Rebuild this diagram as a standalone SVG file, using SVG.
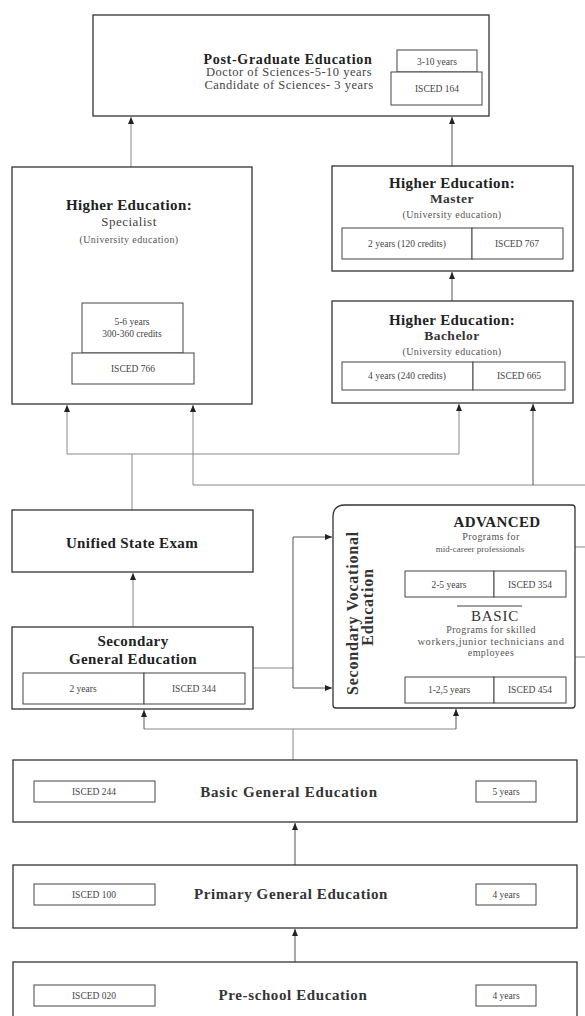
<svg xmlns="http://www.w3.org/2000/svg" width="585" height="1016" viewBox="0 0 585 1016">
<defs>
<marker id="ah" markerWidth="8" markerHeight="8" refX="7" refY="4" orient="auto" markerUnits="userSpaceOnUse"><path d="M0,1 L7,4 L0,7 z" fill="#222"/></marker>
<style>
.box{fill:#fff;stroke:#333;stroke-width:1.3}
.ib{fill:#fff;stroke:#444;stroke-width:1}
.c{fill:none;stroke:#888;stroke-width:1}
.cd{fill:none;stroke:#555;stroke-width:1}
text{font-family:"Liberation Serif","Times New Roman",serif;text-anchor:middle;fill:#333}
.t{font-weight:bold;font-size:15px;fill:#222;letter-spacing:0.4px}
.s{font-size:12.5px;fill:#444;letter-spacing:0.5px}
.u{font-size:10px;fill:#555;letter-spacing:0.4px}
.i{font-size:9.5px;fill:#444}
.b{font-weight:bold;font-size:15px;fill:#333;letter-spacing:0.8px}
</style>
</defs>
<rect width="585" height="1016" fill="#fff"/>

<g id="connectors">
<path class="c" d="M131,167 V117" marker-end="url(#ah)"/>
<path class="cd" d="M452,166 V117" marker-end="url(#ah)"/>
<path class="cd" d="M452,301 V272" marker-end="url(#ah)"/>
<path class="c" d="M67,454 H459"/>
<path class="c" d="M67,454 V405" marker-end="url(#ah)"/>
<path class="c" d="M459,454 V404" marker-end="url(#ah)"/>
<path class="c" d="M132,510 V454"/>
<path class="c" d="M193,485 H585"/>
<path class="c" d="M193,485 V405" marker-end="url(#ah)"/>
<path class="cd" d="M533,485 V404" marker-end="url(#ah)"/>
<path class="c" d="M575,547 H585"/>
<path class="c" d="M575,657 H585"/>
<path class="c" d="M133,627 V573" marker-end="url(#ah)"/>
<path class="c" d="M253,668 H293"/>
<path class="cd" d="M293,537 V688"/>
<path class="cd" d="M293,537 H332" marker-end="url(#ah)"/>
<path class="cd" d="M293,688 H332" marker-end="url(#ah)"/>
<path class="c" d="M293,760 V729"/>
<path class="c" d="M144,729 H456"/>
<path class="cd" d="M144,729 V710" marker-end="url(#ah)"/>
<path class="cd" d="M456,729 V709" marker-end="url(#ah)"/>
<path class="cd" d="M295,865 V823" marker-end="url(#ah)"/>
<path class="cd" d="M295,962 V929" marker-end="url(#ah)"/>
</g>

<g id="postgrad">
<rect class="box" x="93" y="15" width="396" height="101"/>
<text class="t" x="288" y="64" style="font-size:14px;letter-spacing:0.7px">Post-Graduate Education</text>
<text class="s" x="289" y="76">Doctor of Sciences-5-10 years</text>
<text class="s" x="289" y="89">Candidate of Sciences- 3 years</text>
<rect class="ib" x="397" y="50" width="80" height="22"/>
<text class="i" x="437" y="65">3-10 years</text>
<rect class="ib" x="391" y="72" width="91" height="33"/>
<text class="i" x="437" y="92">ISCED 164</text>
</g>

<g id="specialist">
<rect class="box" x="12" y="167" width="240" height="237"/>
<text class="t" x="129" y="210">Higher Education:</text>
<text class="s" x="129" y="226" style="font-size:13px">Specialist</text>
<text class="u" x="129" y="243">(University education)</text>
<rect class="ib" x="82" y="303" width="101" height="50"/>
<text class="i" x="132" y="325">5-6 years</text>
<text class="i" x="132" y="337">300-360 credits</text>
<rect class="ib" x="72" y="353" width="122" height="31"/>
<text class="i" x="133" y="372">ISCED 766</text>
</g>

<g id="master">
<rect class="box" x="332" y="166" width="241" height="105"/>
<text class="t" x="452" y="188">Higher Education:</text>
<text class="s" x="452" y="203" style="font-weight:bold;font-size:13.5px;fill:#333">Master</text>
<text class="u" x="452" y="218">(University education)</text>
<rect class="ib" x="342" y="228" width="130" height="31"/>
<rect class="ib" x="472" y="228" width="91" height="31"/>
<text class="i" x="407" y="247">2 years (120 credits)</text>
<text class="i" x="517" y="247">ISCED 767</text>
</g>

<g id="bachelor">
<rect class="box" x="332" y="301" width="241" height="102"/>
<text class="t" x="452" y="325">Higher Education:</text>
<text class="s" x="452" y="340" style="font-weight:bold;font-size:13.5px;fill:#333">Bachelor</text>
<text class="u" x="452" y="355">(University education)</text>
<rect class="ib" x="342" y="362" width="131" height="28"/>
<rect class="ib" x="473" y="362" width="92" height="28"/>
<text class="i" x="407" y="379">4 years (240 credits)</text>
<text class="i" x="519" y="379">ISCED 665</text>
</g>

<g id="unified">
<rect class="box" x="12" y="510" width="241" height="62"/>
<text class="t" x="132" y="548">Unified State Exam</text>
</g>

<g id="secgeneral">
<rect class="box" x="12" y="627" width="241" height="82"/>
<text class="t" x="133" y="646">Secondary</text>
<text class="t" x="133" y="664">General Education</text>
<rect class="ib" x="23" y="673" width="121" height="31"/>
<rect class="ib" x="144" y="673" width="101" height="31"/>
<text class="i" x="83" y="692">2 years</text>
<text class="i" x="194" y="692">ISCED 344</text>
</g>

<g id="vocational">
<path class="box" d="M345,505 H572 Q575,505 575,508 V705 Q575,708 572,708 H336 Q333,708 333,705 V517 Q333,505 345,505 Z"/>
<text class="t" transform="translate(358,613) rotate(-90)" style="font-size:16px;letter-spacing:0.8px;fill:#333">Secondary Vocational</text>
<text class="t" transform="translate(373,607) rotate(-90)" style="font-size:16px;letter-spacing:0.8px;fill:#333">Education</text>
<text class="t" x="497" y="527">ADVANCED</text>
<text class="u" x="491" y="540">Programs for</text>
<text class="u" x="480" y="552" style="font-size:9px;letter-spacing:0">mid-career professionals</text>
<rect class="ib" x="405" y="571" width="89" height="26"/>
<rect class="ib" x="494" y="571" width="72" height="26"/>
<text class="i" x="449" y="588">2-5 years</text>
<text class="i" x="530" y="588">ISCED 354</text>
<line x1="457" y1="606" x2="522" y2="606" stroke="#444" stroke-width="1.2"/>
<text x="495" y="621" style="font-size:15px;fill:#333;letter-spacing:0.8px">BASIC</text>
<text class="u" x="491" y="633">Programs for skilled</text>
<text class="u" x="491" y="645" style="font-size:10.5px;letter-spacing:0.6px">workers,junior technicians and</text>
<text class="u" x="491" y="656">employees</text>
<rect class="ib" x="405" y="677" width="89" height="26"/>
<rect class="ib" x="494" y="677" width="72" height="26"/>
<text class="i" x="449" y="693">1-2,5 years</text>
<text class="i" x="530" y="693">ISCED 454</text>
</g>

<g id="basic">
<rect class="box" x="13" y="760" width="564" height="62"/>
<rect class="ib" x="34" y="781" width="121" height="21"/>
<text class="i" x="94" y="795">ISCED 244</text>
<text class="b" x="289" y="797">Basic General Education</text>
<rect class="ib" x="476" y="781" width="60" height="21"/>
<text class="i" x="506" y="795">5 years</text>
</g>

<g id="primary">
<rect class="box" x="13" y="865" width="564" height="63"/>
<rect class="ib" x="34" y="884" width="121" height="21"/>
<text class="i" x="94" y="898">ISCED 100</text>
<text class="b" x="291" y="899" style="letter-spacing:0.6px">Primary General Education</text>
<rect class="ib" x="476" y="884" width="60" height="21"/>
<text class="i" x="506" y="898">4 years</text>
</g>

<g id="preschool">
<rect class="box" x="13" y="962" width="564" height="60"/>
<rect class="ib" x="34" y="985" width="121" height="21"/>
<text class="i" x="94" y="999">ISCED 020</text>
<text class="b" x="293" y="1000" style="letter-spacing:0.6px">Pre-school Education</text>
<rect class="ib" x="476" y="985" width="60" height="21"/>
<text class="i" x="506" y="999">4 years</text>
</g>
</svg>
